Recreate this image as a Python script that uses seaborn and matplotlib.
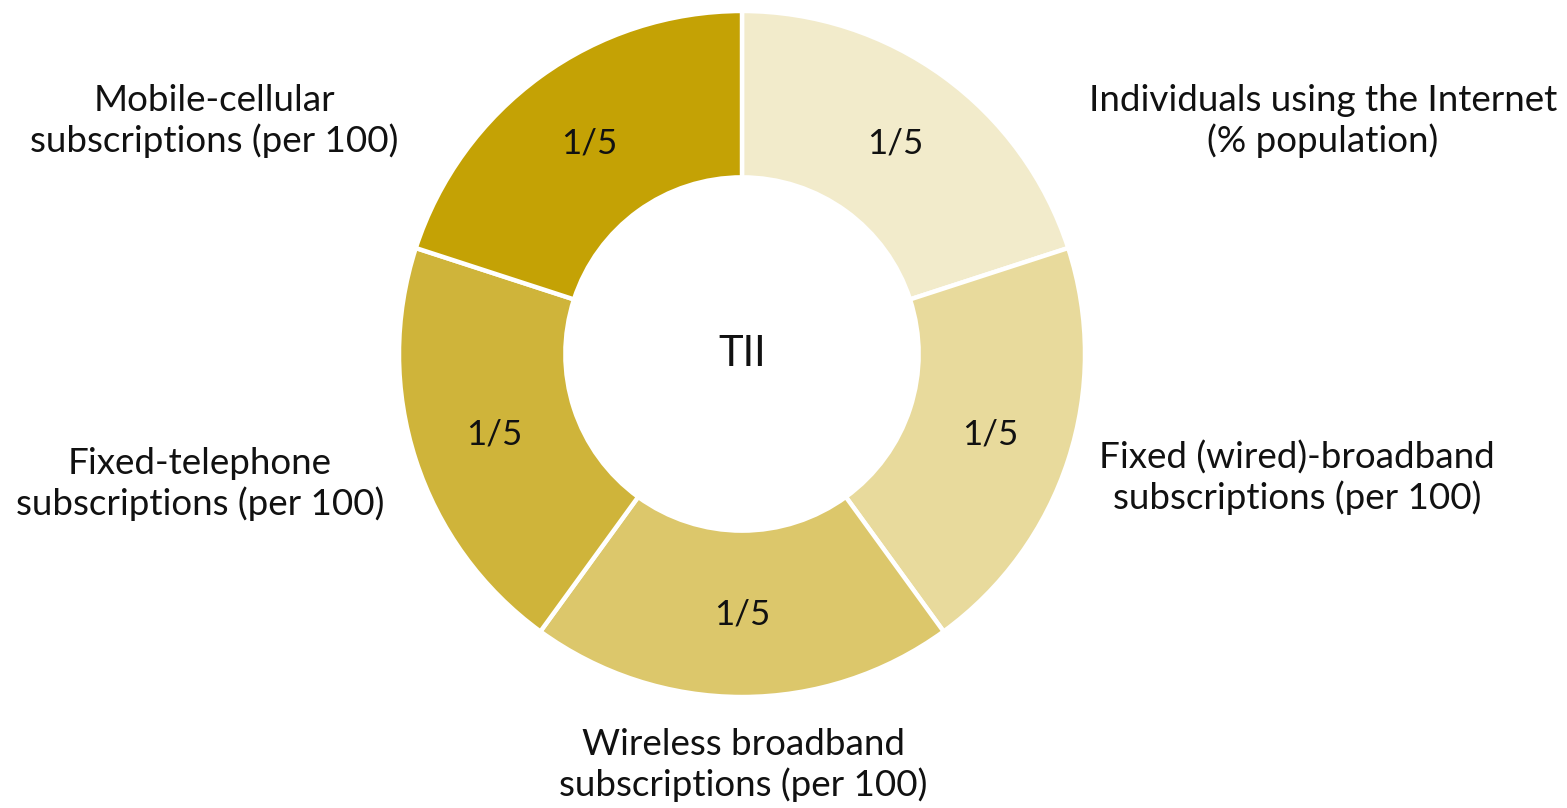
import numpy as np
import matplotlib
matplotlib.use("Agg")
import matplotlib.pyplot as plt
import seaborn as sns

sns.set_theme(style="white")
plt.rcParams["font.family"] = ["Lato", "DejaVu Sans"]

# data: TII components, equal weights, clockwise from 12 o'clock
components = [
    "Individuals using the Internet\n(% population)",
    "Fixed (wired)-broadband\nsubscriptions (per 100)",
    "Wireless broadband\nsubscriptions (per 100)",
    "Fixed-telephone\nsubscriptions (per 100)",
    "Mobile-cellular\nsubscriptions (per 100)",
]
weights = [1, 1, 1, 1, 1]
weight_labels = ["1/5", "1/5", "1/5", "1/5", "1/5"]
colors = ["#F2EBCB", "#E8DA9C", "#DCC76B", "#CFB43A", "#C4A205"]
center_label = "TII"

# layout (pixel space, y up)
W, H = 1567, 808
cx, cy = 742, H - 354
R = 343
label_pos = [(1323, H - 121), (1297, H - 478), (743, H - 765),
             (200, H - 484), (214, H - 121)]

fig = plt.figure(figsize=(W / 100, H / 100), dpi=100)
ax = fig.add_axes([0, 0, 1, 1])

wedges, _ = ax.pie(
    weights, colors=colors, startangle=90, counterclock=False,
    center=(cx, cy), radius=R, frame=True,
    wedgeprops=dict(width=R * 0.485, edgecolor="white", linewidth=3.2),
)
ax.set_xlim(0, W)
ax.set_ylim(0, H)
ax.set_aspect("equal")
ax.axis("off")

for w, lab in zip(wedges, weight_labels):
    mid = np.deg2rad((w.theta1 + w.theta2) / 2)
    r = R * 0.76
    ax.text(cx + r * np.cos(mid), cy + r * np.sin(mid), lab,
            ha="center", va="center", fontsize=25, color="#111111")

ax.text(cx, cy, center_label, ha="center", va="center", fontsize=30, color="#111111")

for (x, y), txt in zip(label_pos, components):
    ax.text(x, y, txt, ha="center", va="center", fontsize=26.5,
            color="#111111", linespacing=1.2)

fig.savefig("out.png", dpi=100, facecolor="white")
